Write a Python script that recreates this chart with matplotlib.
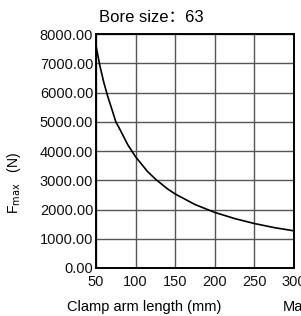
import matplotlib.pyplot as plt

plt.rcParams['font.family'] = ['Liberation Sans', 'DejaVu Sans']

# curve
arm_length = [50, 55, 60, 65, 70, 75, 80, 90, 100, 115, 125, 140, 150, 175,
              200, 225, 250, 275, 300]
f_max = [7600, 6900, 6330, 5850, 5430, 5000, 4750, 4220, 3800, 3300, 3040,
         2710, 2530, 2170, 1900, 1690, 1520, 1380, 1270]
x_ticks = [50, 100, 150, 200, 250, 300]
y_ticks = [0, 1000, 2000, 3000, 4000, 5000, 6000, 7000, 8000]

fig = plt.figure(figsize=(3.01, 3.16), dpi=100)
ax = fig.add_axes([0.319, 0.152, 0.658, 0.740])

ax.plot(arm_length, f_max, color='black', lw=1.2, zorder=3)
ax.set_xlim(50, 300)
ax.set_ylim(0, 8000)
ax.set_xticks(x_ticks)
ax.set_yticks(y_ticks)
ax.set_yticklabels([f"{v:.2f}" for v in y_ticks])
ax.grid(True, color='#555555', lw=1.0)
ax.tick_params(length=0, labelsize=10.5, colors='#111111')
ax.tick_params(axis='y', pad=2)
ax.tick_params(axis='x', pad=5)
for s in ax.spines.values():
    s.set_linewidth(1.4)

fig.text(99 / 301, 1 - 17 / 316, "Bore size：63", fontsize=12, ha='left',
         va='center', family=['Liberation Sans', 'Noto Sans CJK SC'])
fig.text(0.045, 0.42, r"F$_{\rm max}$   (N)", rotation=90, fontsize=10,
         ha='center', va='center')
fig.text(0.222, 0.028, "Clamp arm length (mm)", fontsize=10.5, ha='left', va='center')
fig.text(0.94, 0.028, "Max", fontsize=10.5, ha='left', va='center')

fig.savefig('out.png', dpi=100)
